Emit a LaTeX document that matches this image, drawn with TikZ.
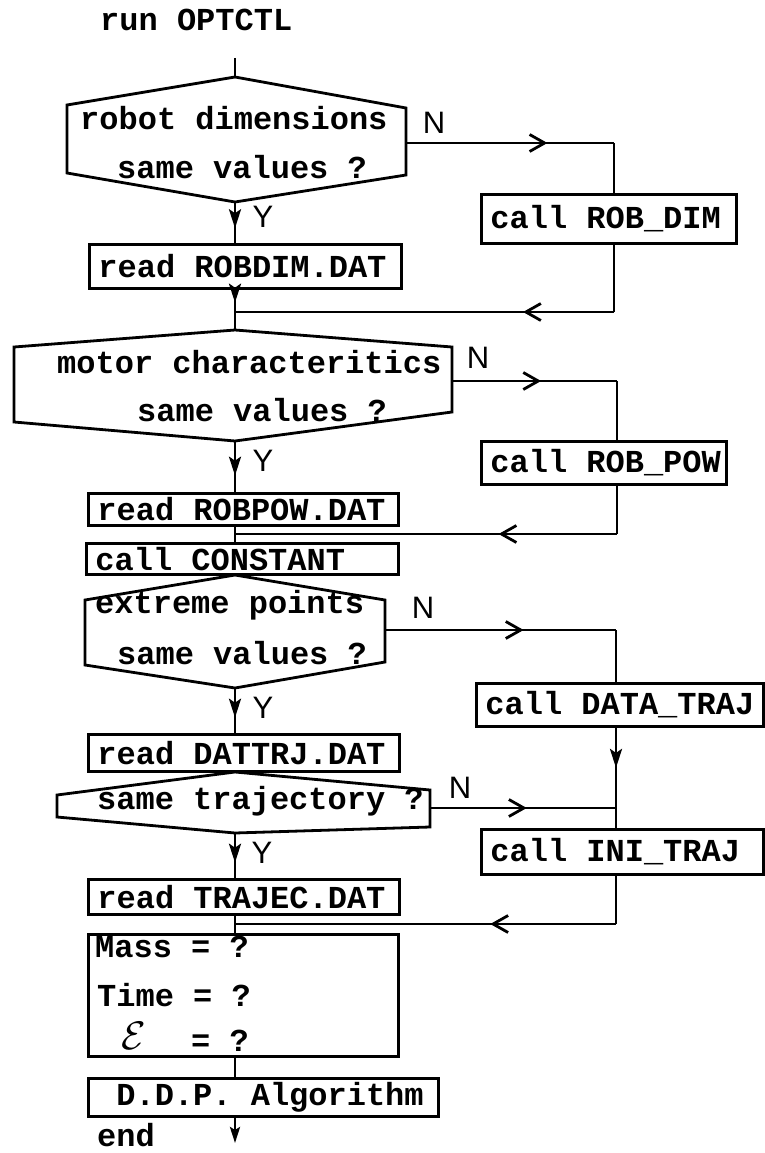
\documentclass[tikz,border=0pt]{standalone}
\usepackage{fontspec}
\usetikzlibrary{arrows.meta,decorations.markings}
\newfontfamily\twfont{Liberation Mono Bold}
\newfontfamily\lblfont{Liberation Sans}
\newcommand{\boxtext}[2]{\makebox[#1][l]{#2}}
\tikzset{
  txt/.style={font=\twfont\fontsize{32}{38}\selectfont, inner sep=0pt, anchor=west},
  lbl/.style={font=\lblfont\fontsize{31}{36}\selectfont, inner sep=0pt},
  box/.style={draw, line width=2.8pt, anchor=north west, inner xsep=9pt, inner ysep=0pt,
     font=\twfont\fontsize{32}{38}\selectfont},
  ln/.style={line width=2.8pt},
  hexa/.style={line width=2.8pt, line join=miter},
  harr/.style={ln, postaction={decorate, decoration={markings,
     mark=at position #1 with {\arrow{Straight Barb[length=15pt,width=17pt,line width=2.8pt]}}}}},
  varr/.style={ln, postaction={decorate, decoration={markings,
     mark=at position #1 with {\arrow{Stealth[length=19pt,width=12pt,inset=4pt]}}}}},
}
\begin{document}
\begin{tikzpicture}[x=1pt,y=-1pt]
\useasboundingbox (0,0) rectangle (764,1153);

% start
\node[txt] (run) at (100,20) {run OPTCTL};
\coordinate (s0) at (235,58);

% decision 1
\coordinate (d1n) at (235,77);  \coordinate (d1nw) at (67,105); \coordinate (d1sw) at (67,173);
\coordinate (d1s) at (235,202); \coordinate (d1se) at (406,175); \coordinate (d1ne) at (406,108);
\coordinate (d1e) at (406,143);
\draw[hexa] (d1n) -- (d1nw) -- (d1sw) -- (d1s) -- (d1se) -- (d1ne) -- cycle;
\node[txt] (d1a) at (80,118) {robot dimensions};
\node[txt] (d1b) at (117,167) {same values ?};
\node[lbl] (n1) at (434,123) {N};
\node[lbl] (y1) at (263,217) {Y};

\node[box, minimum width=255pt, minimum height=49pt] (b1) at (480,193) {\boxtext{237pt}{call ROB\_DIM}};
\node[box, minimum width=312pt, minimum height=44pt] (r1) at (88,243) {\boxtext{294pt}{read ROBDIM.DAT}};
\coordinate (c1a) at (614,143); \coordinate (c1b) at (614,312); \coordinate (m1) at (235,312);

\draw[ln] (s0) -- (d1n);
\draw[harr=0.68] (d1e) -- (c1a);
\draw[ln] (c1a) -- (c1a |- b1.north);
\draw[ln] (c1a |- b1.south) -- (c1b);
\draw[harr=0.24] (c1b) -- (m1);
\draw[varr=0.64] (d1s) -- (d1s |- r1.north);

% decision 2
\coordinate (d2n) at (235,330);  \coordinate (d2nw) at (14,347); \coordinate (d2sw) at (14,422);
\coordinate (d2s) at (235,441); \coordinate (d2se) at (452,412); \coordinate (d2ne) at (452,347);
\coordinate (d2e) at (452,381);
\draw[varr=0.32] (d1s |- r1.south) -- (d2n);
\draw[hexa] (d2n) -- (d2nw) -- (d2sw) -- (d2s) -- (d2se) -- (d2ne) -- cycle;
\node[txt] (d2a) at (57,362) {motor characteritics};
\node[txt] (d2b) at (137,410) {same values ?};
\node[lbl] (n2) at (478,358) {N};
\node[lbl] (y2) at (263,461) {Y};

\node[box, minimum width=245pt, minimum height=43pt] (b2) at (480,440) {\boxtext{227pt}{call ROB\_POW}};
\node[box, minimum width=310pt, minimum height=32pt] (r2) at (87,492) {\boxtext{292pt}{read ROBPOW.DAT}};
\node[box, minimum width=312pt, minimum height=31pt] (cc) at (85,542) {\boxtext{294pt}{call CONSTANT}};
\coordinate (c2a) at (617,381); \coordinate (c2b) at (617,534); \coordinate (m2) at (235,534);

\draw[harr=0.54] (d2e) -- (c2a);
\draw[ln] (c2a) -- (c2a |- b2.north);
\draw[ln] (c2a |- b2.south) -- (c2b);
\draw[harr=0.31] (c2b) -- (m2);
\draw[varr=0.68] (d2s) -- (d2s |- r2.north);
\draw[ln] (d2s |- r2.south) -- (d2s |- cc.north);

% decision 3
\coordinate (d3n) at (235,575);  \coordinate (d3nw) at (85,600); \coordinate (d3sw) at (85,665);
\coordinate (d3s) at (235,688); \coordinate (d3se) at (385,662); \coordinate (d3ne) at (385,600);
\coordinate (d3e) at (385,630);
\draw[hexa] (d3n) -- (d3nw) -- (d3sw) -- (d3s) -- (d3se) -- (d3ne) -- cycle;
\node[txt] (d3a) at (95,605) {extreme points};
\node[txt] (d3b) at (117,653) {same values ?};
\node[lbl] (n3) at (423,608) {N};
\node[lbl] (y3) at (263,708) {Y};

\node[box, minimum width=287pt, minimum height=43pt] (b3) at (475,682) {\boxtext{269pt}{call DATA\_TRAJ}};
\node[box, minimum width=311pt, minimum height=37pt] (r3) at (87,733) {\boxtext{293pt}{read DATTRJ.DAT}};
\node[box, minimum width=282pt, minimum height=45pt] (b4) at (480,828) {\boxtext{264pt}{call INI\_TRAJ}};
\coordinate (c3a) at (616,630); \coordinate (j4) at (616,808);

\draw[harr=0.6] (d3e) -- (c3a);
\draw[ln] (c3a) -- (c3a |- b3.north);
\draw[varr=0.5] (c3a |- b3.south) -- (j4);
\draw[ln] (j4) -- (j4 |- b4.north);
\draw[varr=0.66] (d3s) -- (d3s |- r3.north);

% decision 4
\coordinate (d4n) at (235,772);  \coordinate (d4nw) at (57,795); \coordinate (d4sw) at (57,817);
\coordinate (d4s) at (235,833); \coordinate (d4se) at (430,827); \coordinate (d4ne) at (430,790);
\coordinate (d4e) at (430,808);
\draw[hexa] (d4n) -- (d4nw) -- (d4sw) -- (d4s) -- (d4se) -- (d4ne) -- cycle;
\node[txt] (d4a) at (97,801) {same trajectory ?};
\node[lbl] (n4) at (460,788) {N};
\node[lbl] (y4) at (262,853) {Y};

\node[box, minimum width=311pt, minimum height=35pt] (r4) at (87,878) {\boxtext{293pt}{read TRAJEC.DAT}};
\coordinate (c4b) at (616,924); \coordinate (m4) at (235,924);

\draw[harr=0.52] (d4e) -- (j4);
\draw[ln] (j4 |- b4.south) -- (c4b);
\draw[harr=0.33] (c4b) -- (m4);
\draw[varr=0.66] (d4s) -- (d4s |- r4.north);

% parameter box
\node[draw, line width=2.8pt, anchor=north west, minimum width=310pt, minimum height=122pt, inner sep=0pt] (pm) at (87,933) {};
\node[txt] (pm1) at (95,947) {Mass = ?};
\node[txt] (pm2) at (97,995) {Time = ?};
\node[inner sep=0pt, font=\fontsize{24.88}{28}\selectfont, scale=1.6] (pm3a) at (134,1036) {$\mathcal{E}$};
\node[txt] (pm3b) at (191,1041) {= ?};
\draw[ln] (d4s |- r4.south) -- (d4s |- pm.north);

% DDP
\node[box, minimum width=350pt, minimum height=38pt] (ddp) at (87,1077) {\boxtext{332pt}{\hspace*{19pt}D.D.P. Algorithm}};
\draw[ln] (d4s |- pm.south) -- (d4s |- ddp.north);
\coordinate (e0) at (235,1143);
\draw[ln, -{Stealth[length=16pt,width=10pt,inset=3pt]}] (d4s |- ddp.south) -- (e0);
\node[txt] (endt) at (97,1135) {end};
\end{tikzpicture}
\end{document}
